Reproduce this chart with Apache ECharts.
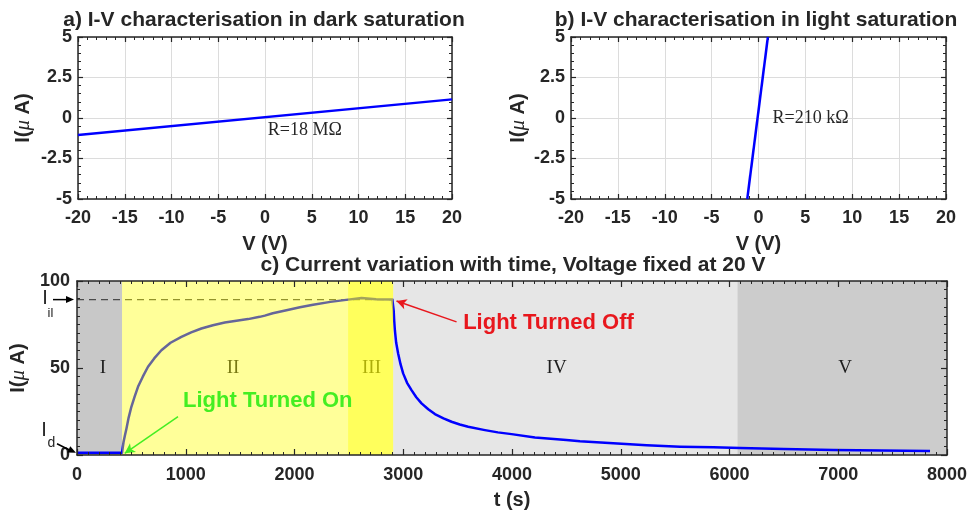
<!DOCTYPE html>
<html><head><meta charset="utf-8">
<script src="https://cdn.jsdelivr.net/npm/echarts@6/dist/echarts.min.js"></script>
<style>html,body{margin:0;padding:0;background:#fff}#c{width:971px;height:513px}</style>
</head><body><div id="c"></div>
<script>
// ---- data ----
const ivVoltage = [-20, 20];
const darkCurrent = [-1.05, 1.15];
const lightVoltage = [-1.2, 1.0];
const lightCurrent = [-5, 5];

const time = [0, 414, 420, 428, 440, 454, 475, 500, 530, 561, 605, 653, 710, 776, 860, 960, 1050, 1144, 1250, 1359, 1466, 1573, 1680, 1727, 1800, 1926, 2050, 2171, 2330, 2493, 2616, 2750, 2900,
  2907, 2912, 2917, 2923, 2935, 2953, 2975, 2999, 3035, 3076, 3120, 3168, 3230, 3291, 3370, 3444, 3520, 3597, 3751, 3870, 3996, 4211, 4500, 4625, 4931, 5238, 5545, 5851, 6097, 6500, 6955, 7400, 7844];
const current = [1.3, 1.3, 4, 7.5, 11, 15, 21.5, 27.7, 33.5, 39.2, 45, 50.7, 55.5, 60.2, 64.5, 67.9, 70.5, 72.7, 74.6, 76.1, 77.2, 78.1, 79.4, 80.1, 81.5, 83.2, 84.9, 86.4, 88, 89.3, 90.2, 89.5, 89.3,
  89.3, 83, 77, 71.7, 64.5, 58.3, 52.2, 46.9, 41.5, 37.3, 33.2, 29.7, 26.3, 23.5, 21.1, 19.1, 17.5, 16.2, 14.3, 13.0, 12.0, 10.1, 8.6, 7.9, 6.7, 5.6, 4.8, 4.4, 4.0, 3.5, 2.9, 2.6, 2.3];

const regionNames = ['I', 'II', 'III', 'IV', 'V'];
const regionStart = [0, 414, 2493, 2907, 6072];
const regionEnd = [414, 2907, 2907, 6072, 8000];
const regionLabelTime = [239, 1435, 2708, 4410, 7063];
const regionLabelCurrent = 50;
const currentIl = 89.3;
const currentD = 1.3;

const xTicksIV = [-20, 20, 5];
const yTicksIV = [-5, 5, 2.5];
const xTicksT = [0, 8000, 1000];
const yTicksT = [0, 100, 50];

// ---- styling ----
const SANS = '"Liberation Sans", Arial, Helvetica, sans-serif';
const SERIF = '"Liberation Serif", "Times New Roman", serif';
const INK = '#262626';
const BLUE = '#0000ff';
const GREEN = '#44ee22';
const RED = '#e8171d';

function axis(dim, grid, pos, ticks, minor, showLabel, extra) {
  return Object.assign({
    type: 'value', gridIndex: grid, position: pos,
    min: ticks[0], max: ticks[1], interval: ticks[2],
    axisLine: {show: true, onZero: false, lineStyle: {color: INK, width: 1.5}},
    axisTick: {show: true, inside: true, length: 5, lineStyle: {color: INK, width: 1.2}},
    minorTick: {show: true, splitNumber: minor, length: 3, lineStyle: {color: INK, width: 1}},
    axisLabel: {show: showLabel, color: INK, fontFamily: SANS, fontWeight: 'bold', fontSize: 18,
      margin: dim === 'x' ? 10 : 6, showMinLabel: true, showMaxLabel: true, formatter: v => String(v)},
    splitLine: {show: false},
    minorSplitLine: {show: false}
  }, extra || {});
}
const yName = '{a|I(}{m|μ}{a| A)}';
const yNameStyle = {rich: {
  a: {fontFamily: SANS, fontWeight: 'bold', fontSize: 20, color: INK},
  m: {fontFamily: SERIF, fontStyle: 'italic', fontSize: 21, color: INK}
}};
const xNameStyle = {fontFamily: SANS, fontWeight: 'bold', fontSize: 20, color: INK};
const gridLine = {show: true, lineStyle: {color: '#dcdcdc', width: 1}};
const longTick = {show: true, inside: true, length: 6, lineStyle: {color: INK, width: 1.2}};
const bigLabel = {show: true, color: INK, fontFamily: SANS, fontWeight: 'bold', fontSize: 18, margin: 11, showMinLabel: true, showMaxLabel: true, formatter: v => String(v)};

const xAxis = [
  axis('x', 0, 'bottom', xTicksIV, 5, true, {name: 'V (V)', nameLocation: 'middle', nameGap: 35, nameTextStyle: xNameStyle, splitLine: gridLine}),
  axis('x', 0, 'top', xTicksIV, 5, false),
  axis('x', 1, 'bottom', xTicksIV, 5, true, {name: 'V (V)', nameLocation: 'middle', nameGap: 35, nameTextStyle: xNameStyle, splitLine: gridLine}),
  axis('x', 1, 'top', xTicksIV, 5, false),
  axis('x', 2, 'bottom', xTicksT, 10, true, {name: 't (s)', nameLocation: 'middle', nameGap: 35, nameTextStyle: xNameStyle, z: 10, axisLabel: bigLabel, axisTick: longTick}),
  axis('x', 2, 'top', xTicksT, 10, false, {z: 10, axisTick: longTick})
];
const yAxis = [
  axis('y', 0, 'left', yTicksIV, 5, true, {name: yName, nameLocation: 'middle', nameGap: 44, nameTextStyle: yNameStyle, splitLine: gridLine}),
  axis('y', 0, 'right', yTicksIV, 5, false),
  axis('y', 1, 'left', yTicksIV, 5, true, {name: yName, nameLocation: 'middle', nameGap: 42, nameTextStyle: yNameStyle, splitLine: gridLine}),
  axis('y', 1, 'right', yTicksIV, 5, false),
  axis('y', 2, 'left', yTicksT, 10, true, {name: yName, nameLocation: 'middle', nameGap: 42, nameTextStyle: yNameStyle, z: 10, axisTick: longTick, axisLabel: Object.assign({}, bigLabel, {margin: 7})}),
  axis('y', 2, 'right', yTicksT, 10, false, {z: 10, axisTick: longTick})
];

const zip = (a, b) => a.map((v, i) => [v, b[i]]);
const textPoint = (coord, text, style) => ({
  coord: coord, name: text,
  label: Object.assign({show: true, position: 'inside', formatter: () => text}, style)
});

const grayColors = ['#c8c8c8', null, null, '#e6e6e6', '#cccccc'];
const grayAreas = [0, 3, 4].map(i => [{xAxis: regionStart[i], itemStyle: {color: grayColors[i]}}, {xAxis: regionEnd[i]}]);
const yellowAreas = [1, 2].map(i => [{xAxis: regionStart[i]}, {xAxis: regionEnd[i]}]);

const series = [
  {type: 'line', name: 'dark', xAxisIndex: 0, yAxisIndex: 0, data: zip(ivVoltage, darkCurrent),
    symbol: 'none', lineStyle: {color: BLUE, width: 2.5}, z: 3,
    markPoint: {silent: true, symbol: 'rect', symbolSize: 1, itemStyle: {color: 'transparent'},
      data: [textPoint([0.3, -0.75], 'R=18 MΩ', {align: 'left', verticalAlign: 'middle', fontFamily: SERIF, fontSize: 18, color: INK})]}},
  {type: 'line', name: 'light', xAxisIndex: 2, yAxisIndex: 2, data: zip(lightVoltage, lightCurrent),
    symbol: 'none', lineStyle: {color: BLUE, width: 2.5}, z: 3,
    markPoint: {silent: true, symbol: 'rect', symbolSize: 1, itemStyle: {color: 'transparent'},
      data: [textPoint([1.5, 0], 'R=210 kΩ', {align: 'left', verticalAlign: 'middle', fontFamily: SERIF, fontSize: 18, color: INK})]}},
  {type: 'line', name: 'regions', xAxisIndex: 4, yAxisIndex: 4, data: [], z: 1,
    markArea: {silent: true, z: 1, data: grayAreas}},
  {type: 'line', name: 'Iil', xAxisIndex: 4, yAxisIndex: 4, data: [[0, currentIl], [2907, currentIl]],
    symbol: 'none', lineStyle: {color: '#4a4a4a', width: 1.2, type: [7, 5]}, z: 2},
  {type: 'line', name: 'current', xAxisIndex: 4, yAxisIndex: 4, data: zip(time, current),
    symbol: 'none', lineStyle: {color: BLUE, width: 2.5, join: 'round'}, z: 2},
  {type: 'line', name: 'regionLabels', xAxisIndex: 4, yAxisIndex: 4, data: [], z: 2.5,
    markPoint: {silent: true, z: 2.5, symbol: 'rect', symbolSize: 1, itemStyle: {color: 'transparent'},
      data: regionNames.map((n, i) => textPoint([regionLabelTime[i], regionLabelCurrent], n,
        {align: 'center', verticalAlign: 'middle', fontFamily: SERIF, fontSize: 19, color: '#1e1e1e'}))}},
  {type: 'line', name: 'yellow', xAxisIndex: 4, yAxisIndex: 4, data: [], z: 3,
    markArea: {silent: true, z: 3, itemStyle: {color: 'rgba(255,255,0,0.4)'}, data: yellowAreas}},
  {type: 'line', name: 'notes', xAxisIndex: 4, yAxisIndex: 4, data: [], z: 6,
    markLine: {silent: true, z: 6, symbol: ['none', 'arrow'], symbolSize: [8, 10], label: {show: false},
      data: [
        [{coord: [929, 22], lineStyle: {color: GREEN, width: 1.5, type: 'solid'}}, {coord: [439, 1.0]}],
        [{coord: [3490, 76.5], lineStyle: {color: RED, width: 1.5, type: 'solid'}}, {coord: [2938, 88.5]}]
      ]},
    markPoint: {silent: true, z: 6, symbol: 'rect', symbolSize: 1, itemStyle: {color: 'transparent'},
      data: [
        textPoint([975, 31], 'Light Turned On', {align: 'left', verticalAlign: 'middle', fontFamily: SANS, fontWeight: 'bold', fontSize: 22, color: GREEN}),
        textPoint([3551, 75.7], 'Light Turned Off', {align: 'left', verticalAlign: 'middle', fontFamily: SANS, fontWeight: 'bold', fontSize: 22, color: RED})
      ]}}
];

const option = {
  animation: false,
  backgroundColor: '#ffffff',
  grid: [
    {left: 78, top: 37, width: 374, height: 162, outerBoundsMode: 'none'},
    {left: 571, top: 37, width: 375, height: 162, outerBoundsMode: 'none'},
    {left: 77, top: 281, width: 870, height: 174, outerBoundsMode: 'none'}
  ],
  xAxis: xAxis, yAxis: yAxis, series: series
};

const chart = echarts.init(document.getElementById('c'));
chart.setOption(option);

// titles and the left-side I_il / I_d markers, placed through the axes' scales
const pIl = chart.convertToPixel({xAxisIndex: 4, yAxisIndex: 4}, [0, currentIl]);
const pD = chart.convertToPixel({xAxisIndex: 4, yAxisIndex: 4}, [0, currentD]);
const titleFont = 'bold 21px ' + SANS;
function arrowHead(x1, y1, x2, y2, len, half, color) {
  const a = Math.atan2(y2 - y1, x2 - x1);
  const bx = x2 - len * Math.cos(a), by = y2 - len * Math.sin(a);
  return {type: 'polygon', z: 20, shape: {points: [[x2, y2],
    [bx + half * Math.sin(a), by - half * Math.cos(a)], [bx - half * Math.sin(a), by + half * Math.cos(a)]]},
    style: {fill: color}};
}
chart.setOption({graphic: [
  {type: 'text', z: 20, x: 264, y: 20, style: {text: 'a) I-V characterisation in dark saturation', font: titleFont, fill: INK, align: 'center', verticalAlign: 'middle'}},
  {type: 'text', z: 20, x: 756, y: 20, style: {text: 'b) I-V characterisation in light saturation', font: titleFont, fill: INK, align: 'center', verticalAlign: 'middle'}},
  {type: 'text', z: 20, x: 513, y: 265, style: {text: 'c) Current variation with time, Voltage fixed at 20 V', font: titleFont, fill: INK, align: 'center', verticalAlign: 'middle'}},
  {type: 'text', z: 20, x: pIl[0] - 32, y: pIl[1] - 1, style: {text: 'I', font: '20px ' + SANS, fill: INK, align: 'center', verticalAlign: 'middle'}},
  {type: 'text', z: 20, x: pIl[0] - 26.5, y: pIl[1] + 14, style: {text: 'il', font: '13px ' + SANS, fill: INK, align: 'center', verticalAlign: 'middle'}},
  {type: 'line', z: 20, shape: {x1: pIl[0] - 24, y1: pIl[1], x2: pIl[0] - 8, y2: pIl[1]}, style: {stroke: '#000', lineWidth: 1.5}},
  arrowHead(pIl[0] - 24, pIl[1], pIl[0] - 3, pIl[1], 8, 3.5, '#000'),
  {type: 'text', z: 20, x: pD[0] - 33, y: pD[1] - 22, style: {text: 'I', font: '20px ' + SANS, fill: INK, align: 'center', verticalAlign: 'middle'}},
  {type: 'text', z: 20, x: pD[0] - 25.5, y: pD[1] - 10, style: {text: 'd', font: '14px ' + SANS, fill: INK, align: 'center', verticalAlign: 'middle'}},
  {type: 'line', z: 20, shape: {x1: pD[0] - 20, y1: pD[1] - 9, x2: pD[0] - 7, y2: pD[1] - 2.5}, style: {stroke: '#000', lineWidth: 1.5}},
  arrowHead(pD[0] - 20, pD[1] - 9, pD[0] - 1, pD[1], 8, 3.5, '#000')
]});
</script>
</body></html>
